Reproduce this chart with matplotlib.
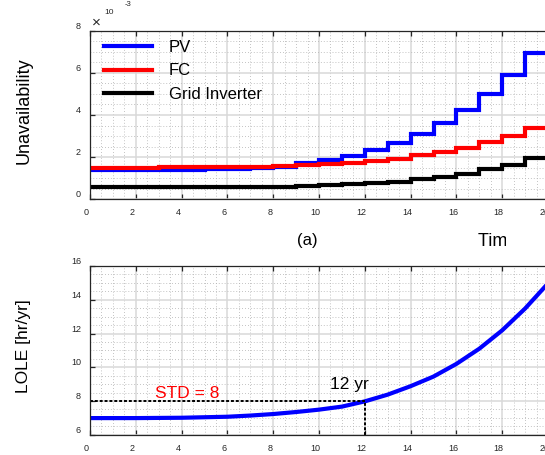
import matplotlib
matplotlib.use("Agg")
import matplotlib.pyplot as plt
from matplotlib.ticker import MultipleLocator, FixedLocator
from matplotlib.transforms import ScaledTranslation, Bbox
import numpy as np

plt.rcParams["font.family"] = ["Liberation Sans", "DejaVu Sans"]

# unavailability per year (x1e-3), one value per yearly step
step_edges = np.arange(0, 21)
pv_unavail = [1.38, 1.38, 1.39, 1.40, 1.41, 1.43, 1.45, 1.48, 1.55, 1.72,
              1.87, 2.06, 2.35, 2.66, 3.09, 3.61, 4.24, 4.99, 5.89, 6.96]
fc_unavail = [1.50, 1.50, 1.50, 1.51, 1.51, 1.52, 1.53, 1.54, 1.56, 1.62,
              1.68, 1.74, 1.82, 1.93, 2.08, 2.25, 2.45, 2.70, 3.01, 3.37]
inv_unavail = [0.57, 0.57, 0.57, 0.57, 0.57, 0.58, 0.58, 0.59, 0.60, 0.62,
               0.66, 0.71, 0.77, 0.84, 0.95, 1.07, 1.21, 1.42, 1.62, 1.95]
series_labels = ["PV", "FC", "Grid Inverter"]
series_colors = ["#0000ff", "#ff0000", "#000000"]

# LOLE curve
lole_years = [0, 1, 2, 3, 4, 5, 6, 7, 8, 9, 10, 11, 12, 13, 14, 15, 16, 17, 18, 19, 20]
lole_vals = [6.99, 6.99, 6.99, 7.00, 7.01, 7.04, 7.07, 7.14, 7.23, 7.35, 7.49,
             7.67, 7.98, 8.38, 8.88, 9.45, 10.2, 11.1, 12.19, 13.48, 14.97]
std_level = 8
cross_year = 12
x_ticks = list(range(0, 21, 2))

W, H = 545, 455
fig = plt.figure(figsize=(W / 100, H / 100), dpi=100)

x_left = 90
px_per_year = 22.9
xmax = 30
ax_w = xmax * px_per_year / W

ax1 = fig.add_axes([x_left / W, 1 - 199.3 / H, ax_w, (199.3 - 30.7) / H])
ax2 = fig.add_axes([x_left / W, 1 - 434.8 / H, ax_w, (434.8 - 266.0) / H])

spine_col = "#262626"


def style_axes(ax, ylo, yhi):
    ax.set_xlim(0, xmax)
    ax.set_ylim(ylo, yhi)
    ax.xaxis.set_major_locator(FixedLocator(x_ticks))
    ax.xaxis.set_minor_locator(MultipleLocator(0.5))
    ax.yaxis.set_major_locator(MultipleLocator(2))
    ax.yaxis.set_minor_locator(MultipleLocator(0.5))
    ax.grid(True, which="major", color="#d8d8d8", lw=1.1, ls="-")
    ax.grid(True, which="minor", color="#b0b0b0", lw=0.6, ls=(0, (1, 2.5)))
    ax.set_axisbelow(True)
    for s in ax.spines.values():
        s.set_color(spine_col)
        s.set_linewidth(0.9)
    ax.tick_params(which="major", direction="in", length=3.5, width=0.9,
                   top=True, right=True, colors=spine_col, labelsize=6.5,
                   labelcolor="#262626", pad=6.5)
    ax.tick_params(which="minor", length=0)
    fig.canvas.draw()
    for lab in ax.get_xticklabels():
        lab.set_transform(lab.get_transform() + ScaledTranslation(-0.035, 0, fig.dpi_scale_trans))
    for lab in ax.get_yticklabels():
        lab.set_transform(lab.get_transform() + ScaledTranslation(0, 0.055, fig.dpi_scale_trans))


# top: stepped unavailability
for vals, lab, col in zip([pv_unavail, fc_unavail, inv_unavail], series_labels, series_colors):
    ax1.stairs(vals, step_edges, color=col, lw=3, baseline=None, label=lab,
               joinstyle="miter")
style_axes(ax1, 0, 8)
ax1.legend(loc="upper left", bbox_to_anchor=((104 - x_left) / (xmax * px_per_year), 0.946),
           frameon=False, fontsize=12, handlelength=2.9, handletextpad=1.0,
           labelspacing=0.52, borderpad=0, borderaxespad=0)

fig.text(96.7 / W, 1 - 23 / H, "\u00d7", fontsize=11, color=spine_col, ha="center", va="center")
fig.text(109.5 / W, 1 - 13 / H, "10", fontsize=6, color=spine_col, ha="center", va="center")
fig.text(128 / W, 1 - 4.5 / H, "-3", fontsize=5.5, color=spine_col, ha="center", va="center")

fig.text(24 / W, 1 - 110.8 / H, "Unavailability", rotation=90, fontsize=13,
         ha="center", va="center")
fig.text(307.5 / W, 1 - 241 / H, "(a)", fontsize=12, ha="center", va="center")
# x label of the top panel: only its start is visible in the reference
time_lbl = fig.text(478 / W, 1 - 241 / H, "Time [yr]", fontsize=13, ha="left", va="center")
time_lbl.set_clip_box(Bbox.from_extents(0, 0, 506, H))
time_lbl.set_clip_on(True)

# bottom: LOLE
ax2.plot(lole_years, lole_vals, color="#0000ff", lw=3)
ax2.plot([0, cross_year], [std_level, std_level], color="black", lw=1.4, ls=(0, (1.5, 1.0)))
ax2.plot([cross_year, cross_year], [6, std_level], color="black", lw=1.4, ls=(0, (1.5, 1.0)))
style_axes(ax2, 6, 16)
ax2.text(2.84, 8.46, "STD = 8", color="red", fontsize=12.5, ha="left", va="center")
ax2.text(10.48, 9.0, "12 yr", color="black", fontsize=12.5, ha="left", va="center")

fig.text(24 / W, 1 - 346 / H, "LOLE [hr/yr]", rotation=90, fontsize=12.5,
         ha="center", va="center")

fig.savefig("out.png", dpi=100)
